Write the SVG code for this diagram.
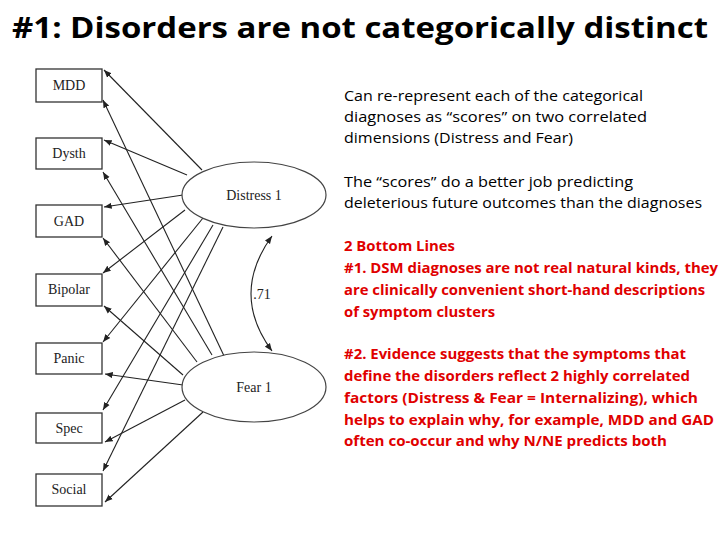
<svg xmlns="http://www.w3.org/2000/svg" width="720" height="540" viewBox="0 0 720 540">
<style>
.box{fill:#fff;stroke:#333;stroke-width:1.3}
.ell{fill:#fff;stroke:#444;stroke-width:1.2}
.lbl{font-family:"Liberation Serif",serif;font-size:14px;fill:#222;text-anchor:middle}
.c line,.c path{stroke:#222;stroke-width:1.1;fill:none}
.t{font-family:"Open Sans","Liberation Sans",sans-serif;font-size:14px;fill:#000}
.r{fill:#e00000;font-weight:bold}
</style>
<defs><marker id="a" viewBox="0 0 10 10" refX="10" refY="5" markerWidth="7" markerHeight="7" orient="auto-start-reverse"><path d="M0,1 L10,5 L0,9 z" fill="#222"/></marker></defs>
<rect width="720" height="540" fill="#fff"/>
<text x="360" y="38" text-anchor="middle" font-family="'Open Sans','Liberation Sans',sans-serif" font-weight="bold" font-size="29" textLength="696" lengthAdjust="spacingAndGlyphs">#1: Disorders are not categorically distinct</text>
<g class="c" marker-end="url(#a)">
<line x1="202" y1="170" x2="104" y2="70" marker-end="url(#a)"/>
<line x1="187" y1="175" x2="104" y2="140" marker-end="url(#a)"/>
<line x1="183" y1="195" x2="104" y2="207" marker-end="url(#a)"/>
<line x1="185" y1="210" x2="103" y2="273" marker-end="url(#a)"/>
<line x1="203" y1="218" x2="103" y2="342" marker-end="url(#a)"/>
<line x1="213" y1="225" x2="103" y2="410" marker-end="url(#a)"/>
<line x1="223" y1="227" x2="103" y2="471" marker-end="url(#a)"/>
<line x1="225" y1="358" x2="103" y2="100" marker-end="url(#a)"/>
<line x1="212" y1="355" x2="103" y2="172" marker-end="url(#a)"/>
<line x1="197" y1="362" x2="103" y2="238" marker-end="url(#a)"/>
<line x1="183" y1="375" x2="104" y2="306" marker-end="url(#a)"/>
<line x1="183" y1="385" x2="105" y2="374" marker-end="url(#a)"/>
<line x1="185" y1="400" x2="105" y2="442" marker-end="url(#a)"/>
<line x1="203" y1="412" x2="105" y2="502" marker-end="url(#a)"/>
<path d="M272,236 Q230,294 272,351" marker-start="url(#a)" marker-end="url(#a)"/>
</g>
<text x="262" y="299" class="lbl">.71</text>
<g id="mdd"><rect class="box" x="36" y="69" width="66" height="33"/><text class="lbl" x="69" y="90">MDD</text></g>
<g id="dysth"><rect class="box" x="36" y="138" width="66" height="31"/><text class="lbl" x="69" y="158">Dysth</text></g>
<g id="gad"><rect class="box" x="36" y="205" width="66" height="32"/><text class="lbl" x="69" y="226">GAD</text></g>
<g id="bipolar"><rect class="box" x="36" y="274" width="66" height="32"/><text class="lbl" x="69" y="294">Bipolar</text></g>
<g id="panic"><rect class="box" x="36" y="343" width="66" height="31"/><text class="lbl" x="69" y="363">Panic</text></g>
<g id="spec"><rect class="box" x="36" y="413" width="66" height="30"/><text class="lbl" x="69" y="433">Spec</text></g>
<g id="social"><rect class="box" x="36" y="474" width="66" height="32"/><text class="lbl" x="69" y="494">Social</text></g>
<g id="distress"><ellipse class="ell" cx="254" cy="195" rx="72" ry="33"/><text class="lbl" x="254" y="200">Distress 1</text></g>
<g id="fear"><ellipse class="ell" cx="254" cy="387" rx="72" ry="35"/><text class="lbl" x="254" y="392">Fear 1</text></g>
<g id="notes">
<text class="t" x="344" y="101" textLength="299" lengthAdjust="spacingAndGlyphs">Can re-represent each of the categorical</text>
<text class="t" x="344" y="122" textLength="303" lengthAdjust="spacingAndGlyphs">diagnoses as  “scores” on two correlated</text>
<text class="t" x="344" y="143" textLength="229" lengthAdjust="spacingAndGlyphs">dimensions (Distress and Fear)</text>
<text class="t" x="344" y="187" textLength="289" lengthAdjust="spacingAndGlyphs">The “scores” do a better job predicting</text>
<text class="t" x="344" y="208" textLength="358" lengthAdjust="spacingAndGlyphs">deleterious future outcomes than the diagnoses</text>
<text class="t r" x="344" y="251" textLength="111" lengthAdjust="spacingAndGlyphs">2 Bottom Lines</text>
<text class="t r" x="344" y="273" textLength="374" lengthAdjust="spacingAndGlyphs">#1. DSM diagnoses are not real natural kinds, they</text>
<text class="t r" x="344" y="295" textLength="361" lengthAdjust="spacingAndGlyphs">are clinically convenient short-hand descriptions</text>
<text class="t r" x="344" y="317" textLength="151" lengthAdjust="spacingAndGlyphs">of symptom clusters</text>
<text class="t r" x="344" y="359" textLength="342" lengthAdjust="spacingAndGlyphs">#2. Evidence suggests that the symptoms that</text>
<text class="t r" x="344" y="381" textLength="346" lengthAdjust="spacingAndGlyphs">define the disorders reflect 2 highly correlated</text>
<text class="t r" x="344" y="403" textLength="354" lengthAdjust="spacingAndGlyphs">factors (Distress &amp; Fear = Internalizing), which</text>
<text class="t r" x="344" y="425" textLength="370" lengthAdjust="spacingAndGlyphs">helps to explain why, for example, MDD and GAD</text>
<text class="t r" x="344" y="446" textLength="323" lengthAdjust="spacingAndGlyphs">often co-occur and why N/NE predicts both</text>
</g>
</svg>
